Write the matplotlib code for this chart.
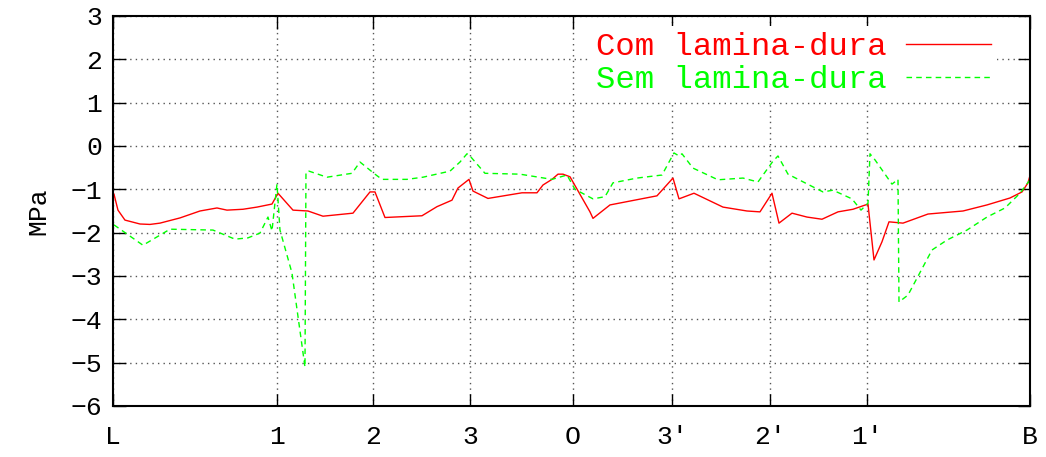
import matplotlib
matplotlib.use("Agg")
import matplotlib.pyplot as plt

plt.rcParams['font.family'] = ['Liberation Mono', 'DejaVu Sans Mono']

# posicao ao longo do contorno (L ... B)
tick_pos = [0, 164, 260, 357, 460, 559, 657, 754, 917]
tick_lab = ['L', '1', '2', '3', 'O', "3′", "2′", "1′", 'B']

# Com lamina-dura
x_com = [1, 5, 12, 27, 37, 47, 67, 87, 104, 114, 130, 144, 159, 165, 180,
         195, 210, 240, 257, 262, 272, 309, 324, 339, 345, 356, 360, 375,
         409, 424, 430, 439, 445, 450, 457, 477, 480, 497, 544, 560, 566,
         581, 610, 634, 647, 659, 666, 679, 694, 709, 725, 740, 755, 761,
         769, 776, 790, 815, 850, 874, 897, 909, 915, 918]
y_com = [-1.11, -1.48, -1.71, -1.80, -1.81, -1.78, -1.66, -1.50, -1.43,
         -1.48, -1.46, -1.41, -1.34, -1.09, -1.48, -1.50, -1.62, -1.55,
         -1.06, -1.06, -1.65, -1.61, -1.40, -1.25, -0.97, -0.77, -1.04,
         -1.21, -1.08, -1.08, -0.90, -0.77, -0.65, -0.65, -0.71, -1.52,
         -1.67, -1.36, -1.15, -0.74, -1.22, -1.09, -1.41, -1.50, -1.52,
         -1.09, -1.78, -1.55, -1.64, -1.69, -1.52, -1.46, -1.34, -2.63,
         -2.21, -1.75, -1.78, -1.57, -1.50, -1.36, -1.20, -1.06, -0.85,
         -0.60]

# Sem lamina-dura
x_sem = [1, 30, 57, 100, 122, 135, 147, 155, 159, 164, 167, 179, 192,
         193, 196, 214, 239, 247, 262, 269, 294, 310, 337, 347, 354, 357,
         372, 407, 439, 454, 462, 480, 492, 500, 524, 549, 561, 566, 569,
         580, 605, 630, 645, 660, 665, 675, 692, 710, 720, 739, 748, 755,
         757, 762, 779, 785, 786, 795, 819, 834, 854, 874, 892, 907, 917]
y_sem = [-1.82, -2.29, -1.92, -1.94, -2.15, -2.12, -2.01, -1.64, -1.96,
         -0.88, -1.94, -2.93, -5.10, -0.60, -0.58, -0.72, -0.63, -0.37,
         -0.65, -0.77, -0.77, -0.72, -0.58, -0.37, -0.18, -0.23, -0.63,
         -0.65, -0.77, -0.67, -1.00, -1.22, -1.17, -0.85, -0.74, -0.67,
         -0.16, -0.23, -0.18, -0.51, -0.78, -0.74, -0.83, -0.35, -0.23,
         -0.65, -0.85, -1.06, -1.02, -1.22, -1.48, -1.32, -0.18, -0.32,
         -0.88, -0.77, -3.60, -3.44, -2.40, -2.17, -1.94, -1.64, -1.43,
         -1.09, -0.78]

fig = plt.figure(figsize=(10.46, 4.57), dpi=100)
ax = fig.add_axes([0.108, 0.1116, 0.8767, 0.8534])

ax.plot(x_com, y_com, color='#ff0000', lw=1.0, label='Com lamina-dura')
ax.plot(x_sem, y_sem, color='#00ff00', lw=1.0, ls=(0, (4, 3)),
        label='Sem lamina-dura')

ax.set_xlim(0, 917)
ax.set_ylim(-6, 3)
ax.set_xticks(tick_pos)
ax.set_xticklabels(tick_lab)
ax.set_yticks(range(-6, 4))
ax.set_yticklabels([str(v).replace('-', '−') for v in range(-6, 4)])
ax.tick_params(direction='in', length=9, width=1, top=True, right=True,
               labelsize=19, colors='black')
ax.tick_params(axis='x', pad=14)
ax.tick_params(axis='y', pad=8)
for s in ax.spines.values():
    s.set_linewidth(1.5)

ax.grid(True, color='#555555', ls=(0, (1, 3)), lw=1.0)
ax.set_ylabel('MPa', fontsize=19, labelpad=14)

leg = ax.legend(loc='upper right', bbox_to_anchor=(0.964, 0.975),
                fontsize=23.3, frameon=True, edgecolor='none',
                facecolor='white', framealpha=1, fancybox=False,
                markerfirst=False, handlelength=2.6, handletextpad=0.6,
                labelspacing=0.1, borderaxespad=0.0, borderpad=0.2)
for txt, line in zip(leg.get_texts(), leg.get_lines()):
    txt.set_color(line.get_color())

fig.savefig('out.png', dpi=100)
